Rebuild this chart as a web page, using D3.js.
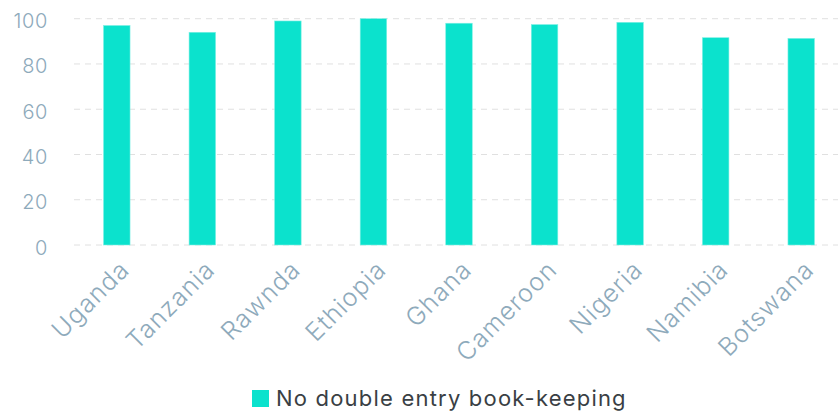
<!DOCTYPE html>
<html>
<head>
<meta charset="utf-8">
<script src="https://cdn.jsdelivr.net/npm/d3@7"></script>
<style>
  body { margin: 0; background: #fff; }
  svg { display: block; font-family: Inter, "Noto Sans", sans-serif; }
</style>
</head>
<body>
<script>
// values
const countries = ["Uganda", "Tanzania", "Rawnda", "Ethiopia", "Ghana", "Cameroon", "Nigeria", "Namibia", "Botswana"];
const noDoubleEntry = [97, 94, 99, 100, 98, 97.4, 98.4, 91.6, 91.3];
const yTicks = [0, 20, 40, 60, 80, 100];
const seriesName = "No double entry book-keeping";

const W = 840, H = 411;
const plotLeft = 74, plotRight = 844, plotTop = 18.7, plotBottom = 245;
const barColor = "#0be2cd";
const tickColor = "#8eaabb";

const svg = d3.select("body").append("svg")
    .attr("width", W)
    .attr("height", H);

const x = d3.scaleBand()
    .domain(countries)
    .range([plotLeft, plotRight])
    .paddingInner(0.69)
    .paddingOuter(0.345);

const y = d3.scaleLinear()
    .domain([0, 100])
    .range([plotBottom, plotTop]);

// grid lines
svg.append("g")
    .selectAll("line")
    .data(yTicks)
    .enter()
    .append("line")
    .attr("x1", plotLeft)
    .attr("x2", 838)
    .attr("y1", d => y(d))
    .attr("y2", d => y(d))
    .attr("stroke", "#e0e0e0")
    .attr("stroke-width", 1)
    .attr("stroke-dasharray", "6,5");

// y axis labels
const yAxis = svg.append("g")
    .attr("transform", `translate(${plotLeft - 26},0)`)
    .call(d3.axisLeft(y).tickValues(yTicks).tickSize(0).tickPadding(0));
yAxis.select(".domain").remove();
yAxis.selectAll("text")
    .attr("fill", tickColor)
    .attr("font-size", 20)
    .attr("font-weight", 300)
    .attr("letter-spacing", 0.6)
    .attr("dy", "0.45em")
    .attr("font-family", "Inter, sans-serif");

// bars
svg.append("g")
    .selectAll("rect")
    .data(countries)
    .enter()
    .append("rect")
    .attr("x", d => x(d))
    .attr("y", (d, i) => y(noDoubleEntry[i]))
    .attr("width", x.bandwidth())
    .attr("height", (d, i) => plotBottom - y(noDoubleEntry[i]))
    .attr("fill", barColor)
    .attr("stroke", "#7ff0e4")
    .attr("stroke-width", 0.6);

// x axis labels, rotated
const xAxis = svg.append("g")
    .attr("transform", `translate(0,${plotBottom})`)
    .call(d3.axisBottom(x).tickSize(0).tickPadding(0));
xAxis.select(".domain").remove();
xAxis.selectAll("text")
    .attr("fill", tickColor)
    .attr("font-size", 25)
    .attr("font-weight", 300)
    .attr("letter-spacing", 1.1)
    .attr("font-family", "Inter, sans-serif")
    .attr("text-anchor", "end")
    .attr("dy", "0.35em")
    .attr("transform", "translate(8,20) rotate(-45)");

// legend
const legend = svg.append("g");
legend.append("rect")
    .attr("x", 252)
    .attr("y", 390)
    .attr("width", 17)
    .attr("height", 17)
    .attr("fill", barColor);
legend.append("text")
    .attr("x", 276)
    .attr("y", 406)
    .attr("fill", "#3a3f44")
    .attr("font-size", 22)
    .attr("letter-spacing", 1.2)
    .text(seriesName);
</script>
</body>
</html>
